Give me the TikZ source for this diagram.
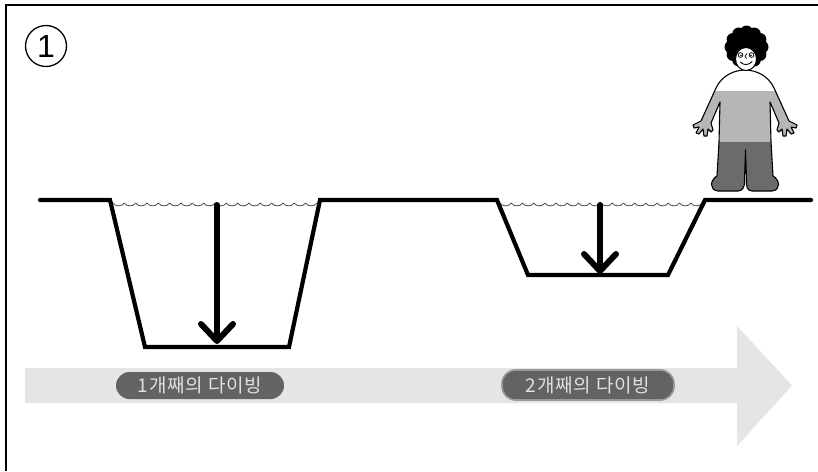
\documentclass[tikz,border=0pt]{standalone}
\usepackage{fontspec}
\setmainfont{Liberation Sans}
\newfontfamily\krfont[LetterSpace=4]{Noto Sans CJK KR}
\usetikzlibrary{calc}
\definecolor{arrowbg}{HTML}{E5E5E5}
\definecolor{pillfill}{HTML}{636363}
\definecolor{pillrim}{HTML}{9A9A9A}
\definecolor{shirtgray}{HTML}{B6B6B6}
\definecolor{pantsgray}{HTML}{6B6B6B}
\definecolor{wavegray}{HTML}{4A4A4A}
\begin{document}
\begin{tikzpicture}[x=1pt,y=-1pt,
  frameline/.style={line width=2},
  ground/.style={line width=4.2, line join=miter, line cap=round},
  shaft/.style={line width=6, line cap=round},
  chevron/.style={line width=6, line cap=round, line join=round},
  wave/.style={draw=wavegray, line width=0.8},
  pill/.style={fill=pillfill, rounded corners=13.5, minimum height=27, inner sep=0,
    text=white!88!black, font=\krfont\fontsize{19}{19}\selectfont},
  outline/.style={line width=1.1, line join=round}]
\useasboundingbox (0,0) rectangle (818,471);
\fill[white] (0,0) rectangle (818,471);

% frame
\draw[frameline] (6,471) -- (6,5) -- (818,5);

% step number
\node[circle, draw, line width=1.3, minimum size=41, inner sep=0,
      font=\fontsize{32}{32}\selectfont] (num) at (46,46) {1};

% time arrow
\fill[arrowbg] (25,368) -- (737,368) -- (737,326) -- (792,385.5) -- (737,446) -- (737,403) -- (25,403) -- cycle;

% dive labels
\node[pill, minimum width=168] (lab1) at (200,385.5) {1개째의 다이빙};
\node[pill, minimum width=172, minimum height=30, draw=pillrim, line width=1.6] (lab2) at (588,385) {2개째의 다이빙};

% water surface in the two pits
\foreach \i in {0,...,17} {
  \pgfmathsetmacro{\xa}{113+11.33*\i}
  \draw[wave] (\xa,203) .. controls (\xa+2,206.8) and (\xa+9.3,206.8) .. (\xa+11.33,203);
}
\foreach \i in {0,...,17} {
  \pgfmathsetmacro{\xb}{500+11.22*\i}
  \draw[wave] (\xb,203) .. controls (\xb+2,206.8) and (\xb+9.2,206.8) .. (\xb+11.22,203);
}

% ground profile with the two dive pits
\coordinate (g0) at (40,200);
\coordinate (p1a) at (110,200);
\coordinate (p1b) at (145,347);
\coordinate (p1c) at (289,347);
\coordinate (p1d) at (320,200);
\coordinate (p2a) at (497,200);
\coordinate (p2b) at (528,275);
\coordinate (p2c) at (668,275);
\coordinate (p2d) at (705,200);
\coordinate (g1) at (811,200);
\draw[ground] (g0) -- (p1a) -- (p1b) -- (p1c) -- (p1d) -- (p2a) -- (p2b) -- (p2c) -- (p2d) -- (g1);

% depth arrows
\coordinate (d1s) at (217,205);
\coordinate (d1e) at (217,341);
\coordinate (d2s) at (600,205);
\coordinate (d2e) at (600,271);
\draw[shaft] (d1s) -- ($(d1e)+(0,-3)$);
\draw[chevron] ($(d1e)+(-16,-17)$) -- (d1e) -- ($(d1e)+(16,-17)$);
\draw[shaft] (d2s) -- ($(d2e)+(0,-3)$);
\draw[chevron] ($(d2e)+(-16,-17)$) -- (d2e) -- ($(d2e)+(16,-17)$);

% diver standing on the shore
\def\bodypath{(716,88) .. controls (722,75) and (735,70) .. (745,70)
  .. controls (755,70) and (768,75) .. (774,88)
  -- (789,121) -- (797,125) -- (796,128) -- (791,127) -- (794,133) -- (791,134)
  -- (787,129) -- (786,136) -- (783,136) -- (782,129) -- (779,132) -- (777,130)
  -- (779,123) -- (770,102) -- (771,142) -- (773,176)
  .. controls (780,180) and (781,190) .. (772,191) -- (752,191)
  .. controls (747,191) and (746,186) .. (746.5,180) -- (745.5,150)
  -- (744.5,180) .. controls (745,186) and (743,191) .. (738,191) -- (718,191)
  .. controls (709,190) and (710,180) .. (717,176)
  -- (719,142) -- (720,102)
  -- (711,123) -- (713,130) -- (711,132) -- (708,129) -- (707,136) -- (704,136)
  -- (703,129) -- (699,134) -- (696,133) -- (699,127) -- (694,128) -- (693,125)
  -- (701,121) -- cycle}
\begin{scope}
  \clip \bodypath;
  \fill[white] (680,60) rectangle (810,91);
  \fill[shirtgray] (680,91) rectangle (810,142);
  \fill[pantsgray] (680,142) rectangle (810,200);
\end{scope}
\draw[outline] \bodypath;

% hair
\fill[black] (746.5,47) ellipse (17 and 16);
\foreach \a in {0,30,...,330}
  \fill[black] ($(746.5,47)+(\a:15.5 and 15)$) circle (6.5);
% face
\filldraw[fill=white, line width=1] (746,59) ellipse (10.5 and 11.5);
\draw[line width=0.7] (740.5,55) circle (2.4);
\fill (741,55.3) circle (0.9);
\draw[line width=0.7] (751.5,55) circle (2.4);
\fill (751,55.3) circle (0.9);
\draw[line width=0.7] (747,53.5) .. controls (744.5,55) and (744.5,57.5) .. (746.5,58.5);
\draw[line width=0.9, line cap=round] (740.5,62) .. controls (743,65.5) and (749,65.5) .. (752,61.5);
\end{tikzpicture}
\end{document}
